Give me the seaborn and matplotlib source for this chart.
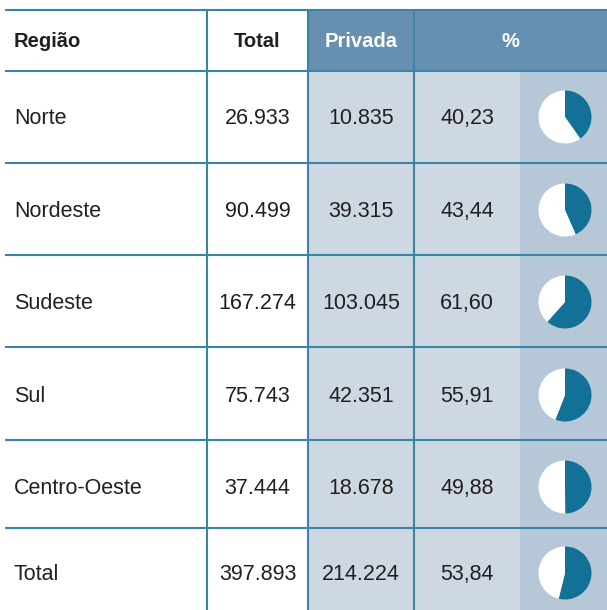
import matplotlib
matplotlib.use("Agg")
import matplotlib.pyplot as plt
import seaborn as sns

# ── Dados ───────────────────────────────────────────────────────────────────────
regioes = ["Norte", "Nordeste", "Sudeste", "Sul", "Centro-Oeste", "Total"]
total = ["26.933", "90.499", "167.274", "75.743", "37.444", "397.893"]
privada = ["10.835", "39.315", "103.045", "42.351", "18.678", "214.224"]
pct = [40.23, 43.44, 61.60, 55.91, 49.88, 53.84]
cabecalho = ["Região", "Total", "Privada", "%"]

# ── Estilo ──────────────────────────────────────────────────────────────────────
sns.set_theme(style="white")
plt.rcParams["font.family"] = ["Liberation Sans", "DejaVu Sans"]

COR_LINHA = "#3a84a8"
COR_CAB = "#6790b0"
COR_CLARA = "#cdd8e2"
COR_PIZZA_BG = "#b6c8d8"
COR_AZUL = "#137096"
COR_TEXTO = "#231f20"
FS_CAB = 14.5
FS = 15.5

W, H = 607, 610
x_cols = [5, 207, 308, 414, 520, 607]
y_rows = [10, 71, 163, 255, 347, 440, 528, 610]

fig = plt.figure(figsize=(W / 100, H / 100), dpi=100)
ax = fig.add_axes([0, 0, 1, 1])


def yy(v):
    return H - v


# fundos
ax.fill_between([x_cols[2], W], yy(y_rows[0]), yy(y_rows[1]), color=COR_CAB, lw=0)
ax.fill_between([x_cols[2], x_cols[4]], yy(y_rows[1]), yy(H), color=COR_CLARA, lw=0)
ax.fill_between([x_cols[4], W], yy(y_rows[1]), yy(H), color=COR_PIZZA_BG, lw=0)

# linhas
for y in y_rows[:-1]:
    ax.plot([x_cols[0], W], [yy(y), yy(y)], color=COR_LINHA, lw=1.5, solid_capstyle="butt")
for x in x_cols[1:4]:
    ax.plot([x, x], [yy(y_rows[0]), yy(H)], color=COR_LINHA, lw=1.5, solid_capstyle="butt")

# cabeçalho
yc = yy((y_rows[0] + y_rows[1]) / 2 + 1)
ax.text(14, yc, cabecalho[0], ha="left", va="center", fontsize=FS_CAB, fontweight="bold", color=COR_TEXTO)
ax.text((x_cols[1] + x_cols[2]) / 2, yc, cabecalho[1], ha="center", va="center",
        fontsize=FS_CAB, fontweight="bold", color=COR_TEXTO)
ax.text((x_cols[2] + x_cols[3]) / 2, yc, cabecalho[2], ha="center", va="center",
        fontsize=FS_CAB, fontweight="bold", color="white")
ax.text((x_cols[3] + W) / 2, yc, cabecalho[3], ha="center", va="center",
        fontsize=FS_CAB, fontweight="bold", color="white")

# linhas da tabela
centros = [117, 210, 302, 395, 487, 573]
for i, reg in enumerate(regioes):
    yc = yy(centros[i] + 1.5)
    ax.text(14, yc, reg, ha="left", va="center", fontsize=FS, color=COR_TEXTO)
    ax.text((x_cols[1] + x_cols[2]) / 2, yc, total[i], ha="center", va="center",
            fontsize=FS, color=COR_TEXTO)
    ax.text((x_cols[2] + x_cols[3]) / 2, yc, privada[i], ha="center", va="center",
            fontsize=FS, color=COR_TEXTO)
    ax.text((x_cols[3] + x_cols[4]) / 2, yc, f"{pct[i]:.2f}".replace(".", ","),
            ha="center", va="center", fontsize=FS, color=COR_TEXTO)
    ax.pie([pct[i], 100 - pct[i]], colors=[COR_AZUL, "white"], startangle=90,
           counterclock=False, center=(565, yy(centros[i])), radius=26.5, frame=True,
           wedgeprops=dict(linewidth=0))

ax.set_xlim(0, W)
ax.set_ylim(0, H)
ax.set_aspect("auto")
ax.axis("off")

fig.savefig("out.png", dpi=100)
